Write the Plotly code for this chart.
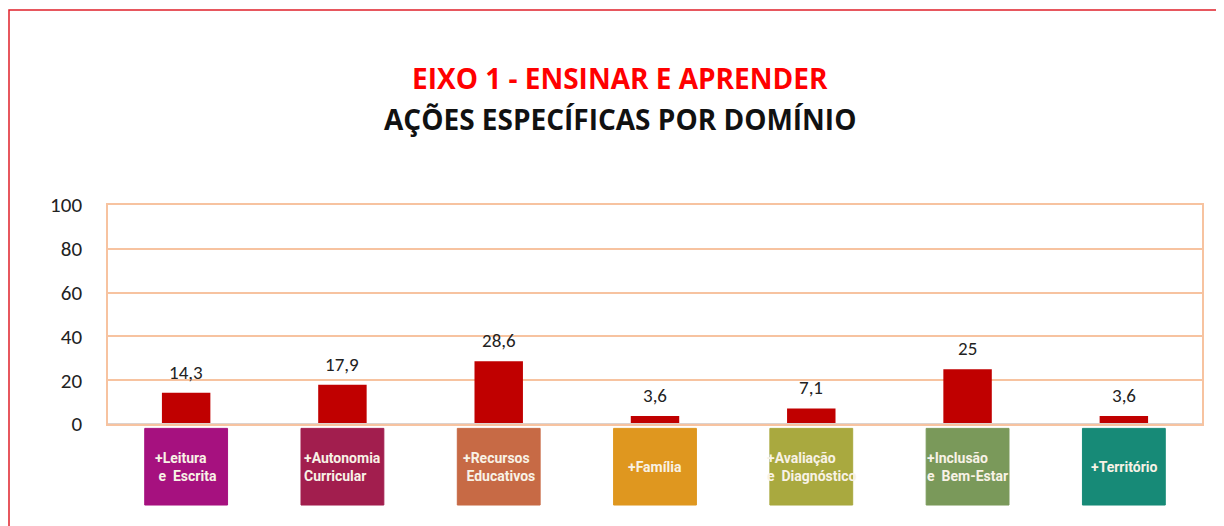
import plotly.graph_objects as go

categories = ["+Leitura<br> e  Escrita", "+Autonomia<br>Curricular", "+Recursos<br> Educativos",
              "+Família", "+Avaliação<br>e  Diagnóstico", "+Inclusão<br>e  Bem-Estar", "+Território"]
values = [14.3, 17.9, 28.6, 3.6, 7.1, 25, 3.6]
box_colors = ["#A6117F", "#A21E4E", "#C76A45", "#DF971F", "#A9A93F", "#7A995A", "#178A77"]
tick_vals = [0, 20, 40, 60, 80, 100]

def fmt(v):
    s = ("%g" % v)
    return s.replace(".", ",")

fig = go.Figure()
fig.add_trace(go.Bar(
    x=list(range(len(categories))), y=values,
    marker=dict(color="#C00000", line=dict(width=0)),
    width=0.31, showlegend=False, hoverinfo="skip",
))

# data labels
for i, v in enumerate(values):
    fig.add_annotation(x=i, y=v, xref="x", yref="y", text=fmt(v), showarrow=False,
                       yanchor="bottom", xanchor="center", yshift=7,
                       font=dict(family="Carlito, Lato, sans-serif", size=19, color="#222222"))

# category label boxes
for i, (c, col) in enumerate(zip(categories, box_colors)):
    fig.add_shape(type="rect", xref="x", yref="paper", x0=i - 0.265, x1=i + 0.265,
                  y0=-0.37, y1=-0.02, fillcolor=col, line=dict(color=col, width=1), layer="above")
    fig.add_annotation(x=i, y=-0.195, xref="x", yref="paper", text="<b>" + c + "</b>",
                       showarrow=False, align="left", xanchor="center", yanchor="middle",
                       font=dict(family="Roboto, Liberation Sans, sans-serif",
                                 size=14, color="#F8F2E6"))

# outer red frame
fig.add_shape(type="rect", xref="paper", yref="paper", x0=(9 - 108) / 1094, x1=(1240 - 108) / 1094,
              y0=(424 - 540) / 219, y1=(424 - 10) / 219, line=dict(color="#E0202A", width=1.5),
              fillcolor="rgba(0,0,0,0)", layer="below")

# titles
fig.add_annotation(xref="paper", yref="paper", x=(620 - 108) / 1094, y=(424 - 78) / 219,
                   xanchor="center", yanchor="middle",
                   text="<b>EIXO 1 - ENSINAR E APRENDER</b>", showarrow=False,
                   font=dict(family="Open Sans, sans-serif", size=28, color="#FF0000"))
fig.add_annotation(xref="paper", yref="paper", x=(620 - 108) / 1094, y=(424 - 119) / 219,
                   xanchor="center", yanchor="middle",
                   text="<b>AÇÕES ESPECÍFICAS POR DOMÍNIO</b>", showarrow=False,
                   font=dict(family="Open Sans, sans-serif", size=28, color="#111111"))

fig.update_layout(
    width=1216, height=518,
    margin=dict(l=100, r=22, t=197, b=102),
    paper_bgcolor="white", plot_bgcolor="white",
    bargap=0.69,
    xaxis=dict(range=[-0.5, 6.5], showticklabels=False, showgrid=False, zeroline=False,
               showline=True, linecolor="#F7C3A0", linewidth=1.5, mirror=True, ticks=""),
    yaxis=dict(range=[0, 100], tickvals=tick_vals, showgrid=True, gridcolor="#F7C3A0", gridwidth=1.5,
               zeroline=False, showline=True, linecolor="#F7C3A0", linewidth=1.5, mirror=True,
               tickfont=dict(family="Carlito, Lato, sans-serif", size=21, color="#222222"),
               ticks="", ticklabelstandoff=20),
)
fig.add_shape(type="line", xref="paper", yref="y", x0=0, x1=1, y0=0, y1=0,
              line=dict(color="#DCD2CE", width=2))

fig.write_html("out.html")
